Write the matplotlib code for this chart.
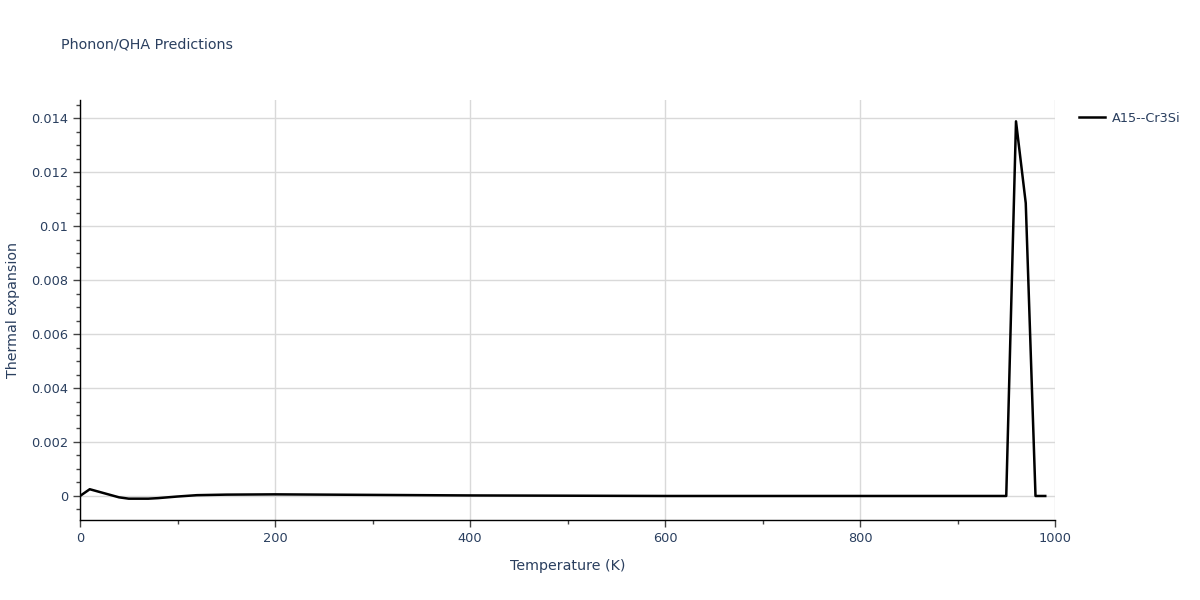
import matplotlib
matplotlib.use("Agg")
import matplotlib.pyplot as plt
from matplotlib.ticker import MultipleLocator, FuncFormatter

# Thermal expansion curve
temperature = [0, 10, 20, 30, 40, 50, 60, 70, 80, 100, 120, 150, 200, 300, 400, 600, 800, 950, 960, 970, 980, 990]
expansion = [0.0, 0.00025, 0.00015, 0.00005, -0.00005, -0.0001, -0.0001, -0.0001, -0.00008, -0.00002,
             0.00003, 0.00005, 0.00006, 0.00004, 0.00002, 0.0, 0.0, 0.0, 0.01388, 0.01085, 0.0, 0.0]
series_name = "A15--Cr3Si"

text_col = "#2a3f5f"
grid_col = "#d9d9d9"

fig = plt.figure(figsize=(12, 6), dpi=100)
ax = fig.add_axes([80 / 1200, 80 / 600, 975 / 1200, 420 / 600])

ax.plot(temperature, expansion, color="black", lw=1.8, label=series_name)

ax.set_xlim(0, 1000)
ax.set_ylim(-0.00089, 0.01467)

ax.xaxis.set_major_locator(MultipleLocator(200))
ax.xaxis.set_minor_locator(MultipleLocator(100))
ax.yaxis.set_major_locator(MultipleLocator(0.002))
ax.yaxis.set_minor_locator(MultipleLocator(0.0005))
ax.yaxis.set_major_formatter(FuncFormatter(lambda v, p: "0" if abs(v) < 1e-12 else f"{v:g}"))

ax.grid(True, which="major", color=grid_col, lw=1)
ax.set_axisbelow(True)

for s in ["top", "right"]:
    ax.spines[s].set_visible(False)
for s in ["left", "bottom"]:
    ax.spines[s].set_color("black")
    ax.spines[s].set_linewidth(1)

ax.tick_params(which="major", direction="out", length=5, width=1, color="#444444",
               labelcolor=text_col, labelsize=9.3)
ax.tick_params(which="minor", direction="out", length=3, width=1, color="#444444")

ax.set_xlabel("Temperature (K)", color=text_col, fontsize=10.3, labelpad=10)
ax.set_ylabel("Thermal expansion", color=text_col, fontsize=10.3, labelpad=8)

fig.text(61 / 1200, 1 - 45 / 600, "Phonon/QHA Predictions", color=text_col, fontsize=10.3, va="center")

leg = ax.legend(loc="upper left", bbox_to_anchor=(1.013, 1.0), frameon=False,
                fontsize=9.3, handlelength=2.0, handletextpad=0.5)
for t in leg.get_texts():
    t.set_color(text_col)

fig.savefig("out.png", dpi=100)
